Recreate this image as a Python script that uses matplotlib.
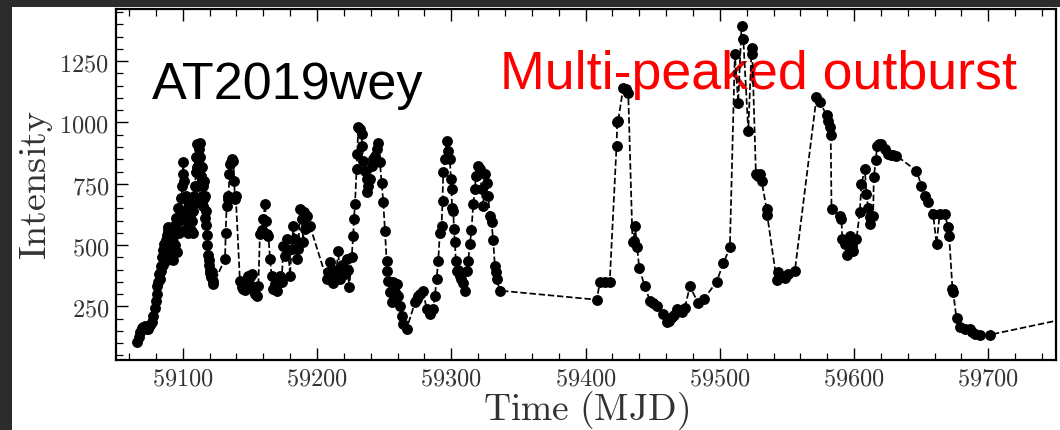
import matplotlib
matplotlib.use("Agg")
import matplotlib.pyplot as plt
from matplotlib.patches import Rectangle
from matplotlib.ticker import MultipleLocator, FuncFormatter

plt.rcParams['mathtext.fontset'] = 'cm'

# ---------------- data (MJD, intensity) ----------------
mjd = [
    59066.2, 59067.2, 59068.2, 59069.5, 59070.7, 59072.0, 59073.2, 59074.4, 59075.6, 59076.9,
    59078.1, 59079.0, 59079.8, 59080.5, 59081.1, 59081.8, 59082.4, 59083.0, 59083.6, 59084.0,
    59084.5, 59085.0, 59085.5, 59086.0, 59086.4, 59086.8, 59087.2, 59087.6, 59088.0, 59088.4,
    59088.8, 59089.3, 59089.8, 59090.2, 59090.6, 59091.0, 59091.5, 59092.0, 59092.5, 59093.0,
    59093.5, 59094.0, 59094.5, 59095.0, 59095.5, 59096.0, 59096.5, 59097.0, 59097.5, 59098.0,
    59098.5, 59099.0, 59099.5, 59100.0, 59100.4, 59100.8, 59101.2, 59101.6, 59102.0, 59102.4,
    59102.8, 59103.2, 59103.6, 59104.0, 59104.4, 59104.8, 59105.2, 59105.6, 59106.0, 59106.4,
    59106.8, 59107.2, 59107.6, 59108.0, 59108.4, 59108.8, 59109.2, 59109.6, 59110.0, 59110.4,
    59110.8, 59111.2, 59111.6, 59112.0, 59112.4, 59112.8, 59113.2, 59113.6, 59114.0, 59114.4,
    59114.8, 59115.2, 59115.6, 59116.0, 59116.4, 59116.8, 59117.2, 59117.6, 59118.0, 59118.4,
    59118.8, 59119.2, 59119.6, 59120.0, 59120.5, 59121.0, 59121.6, 59122.2, 59122.8,
    59131.5, 59132.0, 59132.7, 59133.5, 59134.0, 59134.8, 59135.5, 59136.0, 59136.8, 59137.7,
    59138.3, 59138.9, 59139.5, 59142.6, 59144.0, 59145.1, 59146.5, 59147.5, 59148.8, 59150.0,
    59150.5, 59151.3, 59152.6, 59153.8, 59155.0, 59156.3, 59157.5, 59158.8, 59160.0, 59161.3,
    59162.0, 59162.5, 59163.8, 59165.0, 59166.2, 59167.5, 59168.8, 59170.0, 59171.2, 59172.4,
    59173.7, 59174.9, 59176.2, 59177.4, 59178.6, 59179.9, 59181.1, 59182.4, 59183.6, 59184.9,
    59186.1, 59187.3, 59188.6, 59189.8, 59190.4, 59191.0, 59192.3, 59193.5, 59194.7,
    59207.2, 59208.4, 59209.7, 59210.9, 59212.1, 59213.4, 59214.6, 59215.8, 59217.1, 59218.3,
    59219.6, 59220.8, 59222.0, 59223.0, 59224.0, 59225.8, 59227.0, 59227.5, 59228.3, 59229.5,
    59230.0, 59230.7, 59232.0, 59233.2, 59233.6, 59234.5, 59235.7, 59236.9, 59237.5, 59238.2,
    59239.4, 59240.7, 59242.0, 59243.1, 59244.4, 59245.6, 59246.9, 59248.1, 59249.4, 59250.6,
    59251.8, 59252.3, 59253.1, 59254.3, 59255.5, 59256.8, 59258.0, 59259.3, 59260.5, 59261.8,
    59263.0, 59264.2, 59266.7, 59273.0, 59274.2, 59275.4, 59277.0, 59279.1, 59281.6, 59284.1,
    59286.6, 59287.8, 59289.1, 59290.3, 59291.5, 59292.8, 59293.5, 59294.0, 59295.3, 59296.5,
    59297.7, 59299.0, 59299.7, 59300.2, 59300.6, 59301.5, 59302.0, 59302.7, 59303.4, 59304.0,
    59305.2, 59306.4, 59307.6, 59308.9, 59310.2, 59311.4, 59312.6, 59313.9, 59315.0, 59316.4,
    59317.6, 59318.4, 59320.1, 59321.3, 59322.6, 59323.8, 59325.0, 59326.3, 59327.5, 59328.8,
    59330.0, 59331.2, 59332.5, 59333.0, 59333.7, 59336.2,
    59408.3, 59410.7, 59414.4, 59418.0, 59423.1, 59423.6, 59424.3, 59428.1, 59429.8, 59431.8,
    59435.0, 59435.8, 59436.8, 59438.5, 59440.0, 59444.2, 59448.0, 59450.5, 59453.0, 59457.9,
    59460.4, 59462.2, 59464.1, 59466.0, 59467.8, 59469.5, 59471.5, 59474.0, 59477.7, 59484.0,
    59488.2, 59497.6, 59502.6, 59507.5, 59511.2, 59513.7, 59516.2, 59517.5, 59521.2, 59523.7,
    59524.2, 59526.9, 59528.4, 59529.9, 59531.1, 59534.8, 59535.3, 59542.3, 59543.5, 59546.0,
    59548.5, 59551.0, 59555.9,
    59572.0, 59574.5, 59579.5, 59580.7, 59582.0, 59582.6, 59583.2, 59589.4, 59590.6, 59591.2,
    59593.1, 59594.4, 59596.8, 59598.1, 59599.3, 59601.8, 59604.3, 59605.5, 59608.0, 59609.2,
    59610.5, 59611.7, 59612.2, 59614.2, 59614.7, 59616.2, 59617.2, 59618.8, 59620.4, 59622.9,
    59625.4, 59627.3, 59629.1, 59631.6, 59646.5, 59650.2, 59652.7, 59655.2, 59658.9, 59661.4,
    59663.8, 59667.6, 59670.0, 59670.8, 59673.3, 59673.8, 59676.3, 59678.7, 59682.5, 59686.2,
    59688.0, 59689.9, 59693.6, 59701.1, 59765.0,
]

intensity = [
    103, 125, 144, 160, 164, 170, 158, 157, 172, 185,
    212, 245, 273, 300, 334, 348, 380, 360, 416, 395,
    450, 420, 480, 440, 505, 455, 520, 470, 540, 440,
    560, 575, 500, 450, 545, 480, 565, 520, 440, 540,
    470, 580, 500, 610, 560, 470, 650, 600, 550, 620,
    690, 640, 740, 790, 837, 760, 690, 620, 560, 640,
    700, 600, 550, 650, 690, 580, 620, 680, 560, 640,
    690, 600, 550, 640, 700, 740, 670, 800, 860, 912,
    820, 740, 850, 890, 830, 918, 860, 780, 700, 820,
    740, 660, 760, 690, 610, 700, 640, 580, 540, 500,
    460, 420, 440, 400, 385, 370, 390, 355, 341,
    443, 551, 660, 700, 687, 790, 830, 837, 850, 844,
    760, 687, 700, 354, 330, 320, 318, 340, 375, 370,
    334, 382, 320, 300, 293, 334, 545, 560, 606, 667,
    600, 545, 538, 443, 375, 320, 340, 314, 345, 375,
    348, 497, 456, 524, 480, 375, 483, 579, 524, 443,
    483, 647, 606, 511, 633, 565, 619, 572, 579,
    361, 388, 429, 400, 347, 360, 400, 477, 361, 420,
    402, 380, 443, 400, 327, 450, 538, 606, 667, 810,
    871, 980, 975, 952, 905, 844, 803, 769, 715, 740,
    769, 823, 850, 864, 890, 918, 837, 755, 674, 558,
    436, 395, 354, 307, 266, 350, 307, 341, 293, 252,
    212, 178, 157, 266, 280, 293, 300, 314, 239, 218,
    239, 293, 361, 436, 551, 579, 681, 796, 850, 925,
    884, 850, 769, 728, 653, 640, 565, 511, 436, 395,
    400, 375, 360, 347, 314, 395, 436, 504, 560, 667,
    728, 782, 823, 810, 728, 660, 789, 755, 700, 619,
    592, 520, 415, 388, 361, 314,
    277, 348, 348, 348, 905, 1000, 1007, 1142, 1135, 1122,
    511, 517, 578, 490, 405, 331, 273, 262, 252, 218,
    184, 190, 205, 215, 239, 232, 225, 245, 331, 263,
    280, 350, 425, 490, 1279, 1081, 1394, 1340, 966, 1302,
    1279, 789, 780, 789, 762, 649, 622, 358, 388, 370,
    364, 381, 395,
    1102, 1084, 1030, 1007, 980, 948, 647, 619, 606, 524,
    504, 459, 538, 497, 477, 524, 636, 748, 810, 708,
    653, 613, 586, 619, 776, 848, 905, 912, 912, 891,
    871, 869, 867, 864, 803, 742, 701, 674, 626, 504,
    626, 626, 572, 538, 320, 307, 201, 164, 157, 157,
    145, 137, 134, 134, 208,
]

xticks_major = [59100, 59200, 59300, 59400, 59500, 59600, 59700]
yticks_major = [250, 500, 750, 1000, 1250]
x_limits = (59050.3, 59750.4)
y_limits = (31, 1463)

label_x = 'Time (MJD)'
label_y = 'Intensity'
title_left = 'AT2019wey'
title_right = 'Multi-peaked outburst'

# ---------------- figure ----------------
W, H = 1060, 431
fig = plt.figure(figsize=(W / 100, H / 100), dpi=100)
fig.patch.set_facecolor('#2c2c2c')
panel = Rectangle((12 / W, -0.02), 1.02 - 12 / W, 1.02 - 8 / H,
                  transform=fig.transFigure, facecolor='white',
                  edgecolor='none', zorder=-10)
fig.add_artist(panel)

ax = fig.add_axes([116 / W, 1 - 361 / H, (1056 - 116) / W, (361 - 10) / H])
ax.set_facecolor('white')

ax.plot(mjd, intensity, linestyle='--', color='black', linewidth=1.25,
        marker='o', markersize=6.8, markerfacecolor='black',
        markeredgecolor='black', zorder=3, clip_on=True)

ax.set_xlim(*x_limits)
ax.set_ylim(*y_limits)
ax.set_xticks(xticks_major)
ax.set_yticks(yticks_major)
ax.xaxis.set_minor_locator(MultipleLocator(20))
ax.yaxis.set_minor_locator(MultipleLocator(50))
fmt = FuncFormatter(lambda v, p: r'$%d$' % v)
ax.xaxis.set_major_formatter(fmt)
ax.yaxis.set_major_formatter(fmt)

ax.tick_params(which='both', direction='in', top=True, right=False,
               bottom=True, left=True, colors='black', labelcolor='#333333',
               labelsize=17.5)
ax.tick_params(axis='x', pad=4)
ax.tick_params(axis='y', pad=5)
ax.tick_params(which='major', length=8.5, width=1.0)
ax.tick_params(which='minor', length=4.8, width=0.9)
for s in ax.spines.values():
    s.set_linewidth(1.6)
    s.set_color('black')

ax.set_xlabel(r'$\mathrm{Time\ (MJD)}$', fontsize=27, color='#333333', labelpad=-1)
ax.set_ylabel(r'$\mathrm{Intensity}$', fontsize=27.5, color='#333333', labelpad=3)

ax.text(0.0383, 0.746, title_left, transform=ax.transAxes, fontsize=37.5,
        family='Liberation Sans', color='black', ha='left', va='baseline', zorder=2)
ax.text(0.4085, 0.775, title_right, transform=ax.transAxes, fontsize=38.7,
        family='Liberation Sans', color='#ff0000', ha='left', va='baseline', zorder=2)

fig.savefig('out.png', dpi=100, facecolor=fig.get_facecolor())
